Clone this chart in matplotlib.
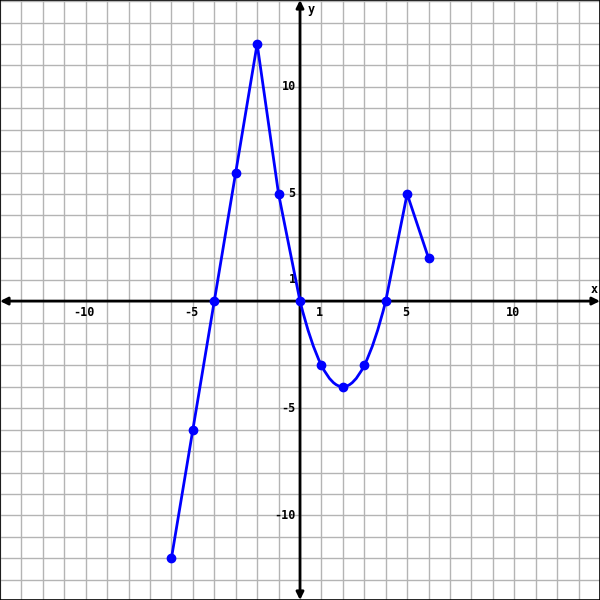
import numpy as np
import matplotlib
matplotlib.use("Agg")
import matplotlib.pyplot as plt
from matplotlib.path import Path
from matplotlib.patches import PathPatch

# points on the graph
xs = [-6, -5, -4, -3, -2, -1, 0, 1, 2, 3, 4, 5, 6]
ys = [-12, -6, 0, 6, 12, 5, 0, -3, -4, -3, 0, 5, 2]
# the part between these x values is drawn as a smooth curve
curve_x = [0, 2, 4]
curve_y = [0, -4, 0]

xticks = [-10, -5, 1, 5, 10]
yticks = [-10, -5, 1, 5, 10]

fig = plt.figure(figsize=(6, 6), dpi=100)
ax = fig.add_axes([0, 0, 1, 1])
ax.set_xlim(-14, 14)
ax.set_ylim(-13.95, 14.05)
ax.set_axis_off()

# grid
for g in range(-14, 15):
    ax.axvline(g, color="#b4b4b4", lw=1, zorder=0)
    ax.axhline(g, color="#b4b4b4", lw=1, zorder=0)

# axes with arrows
arr = dict(arrowstyle="<|-|>", color="black", lw=2.0, mutation_scale=11, shrinkA=0, shrinkB=0)
ax.annotate("", xy=(-14, 0), xytext=(14, 0), arrowprops=arr, zorder=3)
ax.annotate("", xy=(0, -13.95), xytext=(0, 14.05), arrowprops=arr, zorder=3)

font = dict(family="DejaVu Sans Mono", weight="bold", fontsize=8.5)
for t in xticks:
    ax.text(t - 0.08, -0.25, str(t), ha="center", va="top", **font)
for t in yticks:
    ax.text(-0.2, t, str(t), ha="right", va="center", **font)
ax.text(13.75, 0.25, "x", ha="center", va="bottom", **font)
ax.text(0.35, 13.6, "y", ha="left", va="center", **font)

blue = "#0000ff"
# straight pieces
i0 = xs.index(curve_x[0])
i1 = xs.index(curve_x[-1])
ax.plot(xs[:i0 + 1], ys[:i0 + 1], color=blue, lw=2.0, zorder=4)
ax.plot(xs[i1:], ys[i1:], color=blue, lw=2.0, zorder=4)
# smooth piece: quadratic bezier through the three curve points
p0 = np.array([curve_x[0], curve_y[0]])
pm = np.array([curve_x[1], curve_y[1]])
p2 = np.array([curve_x[2], curve_y[2]])
ctrl = 2 * pm - (p0 + p2) / 2
path = Path([p0, ctrl, p2], [Path.MOVETO, Path.CURVE3, Path.CURVE3])
ax.add_patch(PathPatch(path, fc="none", ec=blue, lw=2.0, zorder=4))

ax.plot(xs, ys, "o", color=blue, ms=6, zorder=5)

# border
ax.add_patch(plt.Rectangle((0, 0), 1, 1, transform=ax.transAxes, fill=False,
                           ec="black", lw=1.2, zorder=6))

fig.savefig("out.png", dpi=100)
